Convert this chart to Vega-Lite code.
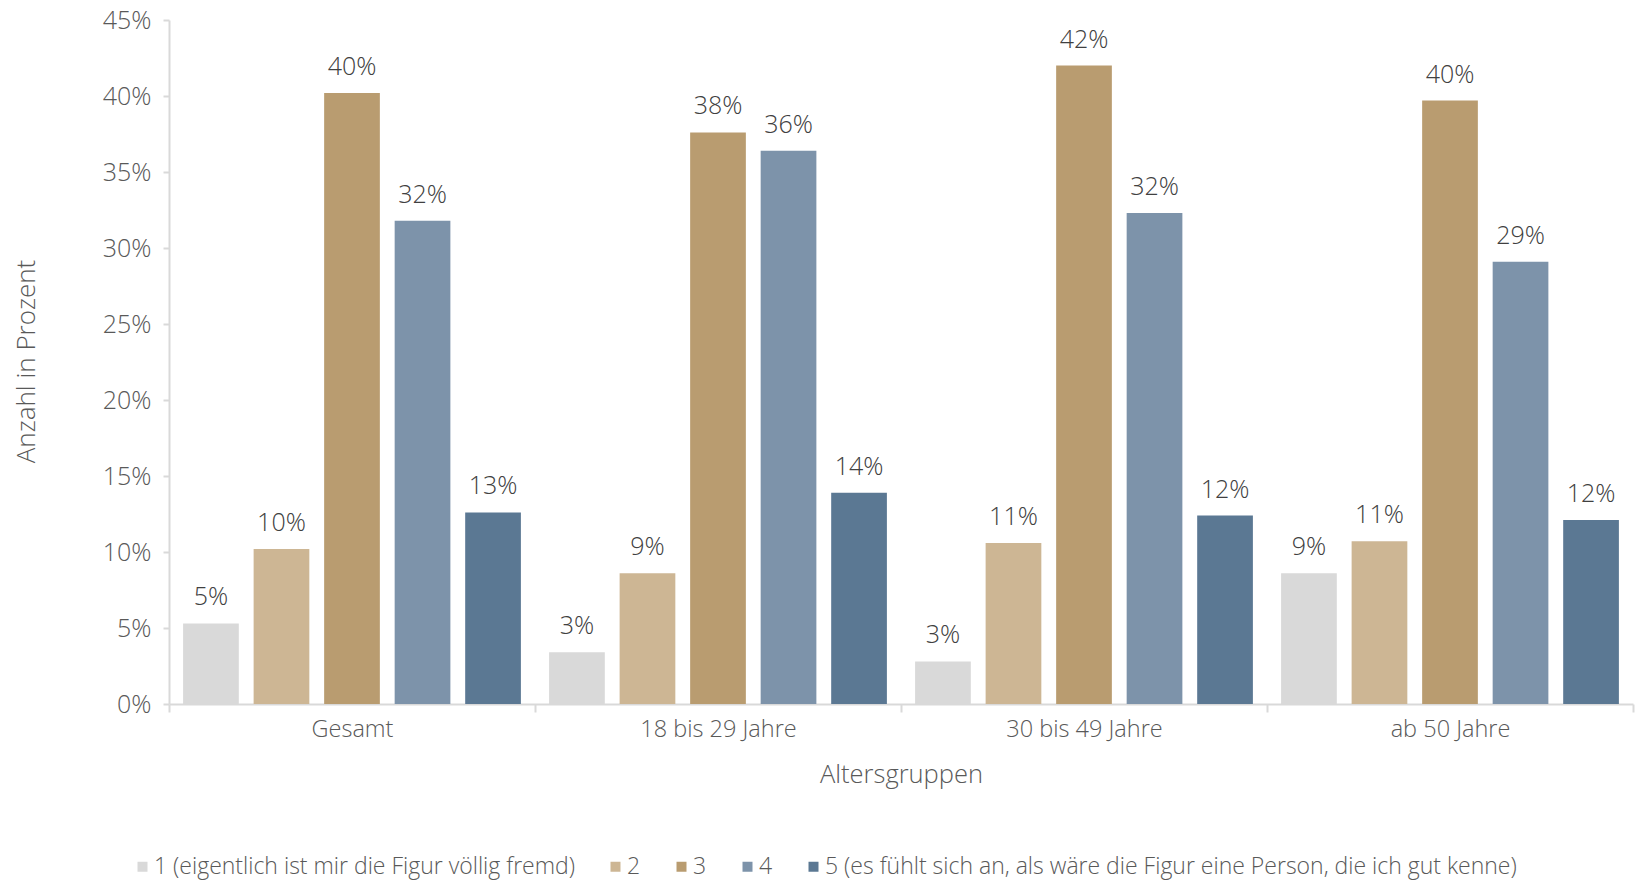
{
  "$schema": "https://vega.github.io/schema/vega-lite/v6.json",
  "width": 1464,
  "height": 684,
  "autosize": {"type": "none"},
  "padding": {"left": 169, "top": 20, "right": 2, "bottom": 178},
  "background": "white",
  "config": {"font": "Open Sans", "view": {"stroke": null}},
  "data": {
    "values": [
      {"gruppe": "Gesamt", "stufe": "1 (eigentlich ist mir die Figur völlig fremd)", "wert": 0.053},
      {"gruppe": "Gesamt", "stufe": "2", "wert": 0.102},
      {"gruppe": "Gesamt", "stufe": "3", "wert": 0.402},
      {"gruppe": "Gesamt", "stufe": "4", "wert": 0.318},
      {"gruppe": "Gesamt", "stufe": "5 (es fühlt sich an, als wäre die Figur eine Person, die ich gut kenne)", "wert": 0.126},
      {"gruppe": "18 bis 29 Jahre", "stufe": "1 (eigentlich ist mir die Figur völlig fremd)", "wert": 0.034},
      {"gruppe": "18 bis 29 Jahre", "stufe": "2", "wert": 0.086},
      {"gruppe": "18 bis 29 Jahre", "stufe": "3", "wert": 0.376},
      {"gruppe": "18 bis 29 Jahre", "stufe": "4", "wert": 0.364},
      {"gruppe": "18 bis 29 Jahre", "stufe": "5 (es fühlt sich an, als wäre die Figur eine Person, die ich gut kenne)", "wert": 0.139},
      {"gruppe": "30 bis 49 Jahre", "stufe": "1 (eigentlich ist mir die Figur völlig fremd)", "wert": 0.028},
      {"gruppe": "30 bis 49 Jahre", "stufe": "2", "wert": 0.106},
      {"gruppe": "30 bis 49 Jahre", "stufe": "3", "wert": 0.42},
      {"gruppe": "30 bis 49 Jahre", "stufe": "4", "wert": 0.323},
      {"gruppe": "30 bis 49 Jahre", "stufe": "5 (es fühlt sich an, als wäre die Figur eine Person, die ich gut kenne)", "wert": 0.124},
      {"gruppe": "ab 50 Jahre", "stufe": "1 (eigentlich ist mir die Figur völlig fremd)", "wert": 0.086},
      {"gruppe": "ab 50 Jahre", "stufe": "2", "wert": 0.107},
      {"gruppe": "ab 50 Jahre", "stufe": "3", "wert": 0.397},
      {"gruppe": "ab 50 Jahre", "stufe": "4", "wert": 0.291},
      {"gruppe": "ab 50 Jahre", "stufe": "5 (es fühlt sich an, als wäre die Figur eine Person, die ich gut kenne)", "wert": 0.121}
    ]
  },
  "encoding": {
    "x": {
      "field": "gruppe",
      "type": "nominal",
      "sort": ["Gesamt", "18 bis 29 Jahre", "30 bis 49 Jahre", "ab 50 Jahre"],
      "scale": {"paddingInner": 0, "paddingOuter": 0},
      "axis": {
        "title": "Altersgruppen",
        "labelAngle": 0,
        "tickBand": "extent",
        "tickSize": 8,
        "tickColor": "#d9d9d9",
        "tickWidth": 2,
        "domainColor": "#d9d9d9",
        "domainWidth": 2,
        "labelFontWeight": 300,
        "labelFontSize": 23.5,
        "labelColor": "#595959",
        "labelPadding": 5,
        "titleFontSize": 25.5,
        "titleFontWeight": 300,
        "titleColor": "#595959",
        "titlePadding": 22
      }
    },
    "xOffset": {
      "field": "stufe",
      "type": "nominal",
      "sort": ["1 (eigentlich ist mir die Figur völlig fremd)", "2", "3", "4", "5 (es fühlt sich an, als wäre die Figur eine Person, die ich gut kenne)"],
      "scale": {"paddingInner": 0.21, "paddingOuter": 0.2}
    },
    "y": {
      "field": "wert",
      "type": "quantitative",
      "scale": {"domain": [0, 0.45], "nice": false},
      "axis": {
        "title": "Anzahl in Prozent",
        "format": ".0%",
        "values": [0, 0.05, 0.1, 0.15, 0.2, 0.25, 0.3, 0.35, 0.4, 0.45],
        "grid": false,
        "domainColor": "#d9d9d9",
        "domainWidth": 2,
        "tickColor": "#d9d9d9",
        "tickWidth": 2,
        "tickSize": 6,
        "labelPadding": 12,
        "labelFontWeight": 300,
        "labelFontSize": 25,
        "labelColor": "#595959",
        "titleFontSize": 26,
        "titleFontWeight": 300,
        "titleColor": "#595959",
        "titleX": -143,
        "titleY": 341,
        "titleAngle": -90,
        "titleAlign": "center",
        "titleBaseline": "middle"
      }
    }
  },
  "layer": [
    {
      "mark": {"type": "bar"},
      "encoding": {
        "color": {
          "field": "stufe",
          "type": "nominal",
          "sort": ["1 (eigentlich ist mir die Figur völlig fremd)", "2", "3", "4", "5 (es fühlt sich an, als wäre die Figur eine Person, die ich gut kenne)"],
          "scale": {
            "domain": ["1 (eigentlich ist mir die Figur völlig fremd)", "2", "3", "4", "5 (es fühlt sich an, als wäre die Figur eine Person, die ich gut kenne)"],
            "range": ["#d9d9d9", "#cdb694", "#b99c70", "#7d93aa", "#5b7893"]
          },
          "legend": {
            "title": null,
            "orient": "none",
            "direction": "horizontal",
            "legendX": -38,
            "legendY": 835,
            "symbolType": "square",
            "symbolSize": 100,
            "symbolStrokeWidth": 0,
            "labelFontSize": 23,
            "labelFontWeight": 300,
            "labelColor": "#595959",
            "labelOffset": 0,
            "labelLimit": 1000,
            "columnPadding": 29
          }
        }
      }
    },
    {
      "mark": {"type": "text", "baseline": "alphabetic", "dy": -18, "fontSize": 25, "fontWeight": 300, "color": "#404040"},
      "encoding": {
        "text": {"field": "wert", "type": "quantitative", "format": ".0%"}
      }
    }
  ]
}
